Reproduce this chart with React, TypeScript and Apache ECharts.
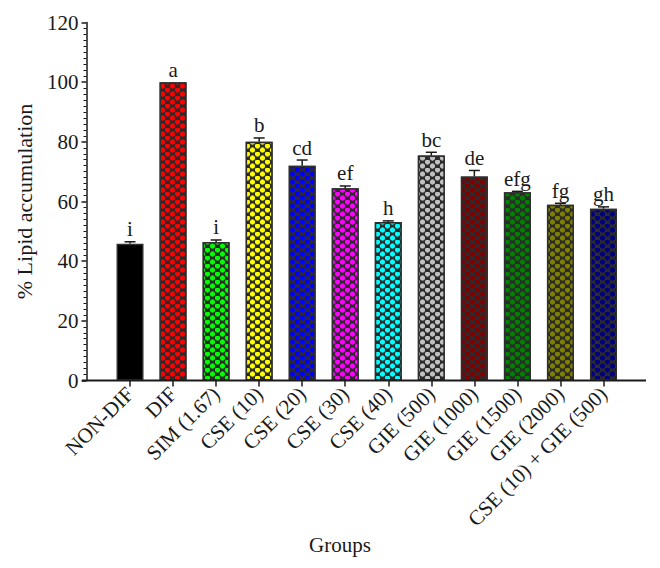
import React, { useEffect, useRef } from "react";
import * as echarts from "echarts";

const categories = [
  "NON-DIF",
  "DIF",
  "SIM (1.67)",
  "CSE (10)",
  "CSE (20)",
  "CSE (30)",
  "CSE (40)",
  "GIE (500)",
  "GIE (1000)",
  "GIE (1500)",
  "GIE (2000)",
  "CSE (10) + GIE (500)",
];
const means = [45.8, 100, 46.4, 80, 72, 64.4, 53.1, 75.4, 68.4, 63.1, 58.9, 57.6];
const errors = [0.7, 0, 0.7, 1.3, 1.9, 0.8, 0.4, 1.1, 2.0, 0.3, 0.5, 0.6];
const letters = ["i", "a", "i", "b", "cd", "ef", "h", "bc", "de", "efg", "fg", "gh"];
const colors = [
  "#000000",
  "#ff0000",
  "#00ff00",
  "#ffff00",
  "#0000ff",
  "#ff00ff",
  "#00ffff",
  "#c0c0c0",
  "#800000",
  "#008000",
  "#808000",
  "#000080",
];
const yMin = 0;
const yMax = 120;
const yInterval = 20;

const FONT = "'Liberation Serif', 'DejaVu Serif', serif";
const INK = "#1a1a1a";
const DARK = "#2b2b2b";

export default function App() {
  const ref = useRef<HTMLDivElement>(null);
  useEffect(() => {
    if (!ref.current) return;
    const chart = echarts.init(ref.current, null, { renderer: "svg" });
    const barData = means.map((m, i) => ({
      value: m,
      itemStyle:
        i === 0
          ? { color: colors[i], borderColor: "#2e2e2e", borderWidth: 1.5 }
          : {
              color: DARK,
              borderColor: "#2e2e2e",
              borderWidth: 1.5,
              decal: {
                symbol: "circle",
                symbolSize: 1.3,
                color: colors[i],
                dashArrayX: [
                  [4.5, 4.5],
                  [0, 4.5, 4.5, 0],
                ],
                dashArrayY: [4, 0],
              },
            },
    }));
    chart.setOption({
      animation: false,
      backgroundColor: "#ffffff",
      grid: { left: 108.5, right: 35, top: 22.5, bottom: 187.5, containLabel: false },
      xAxis: {
        type: "category",
        data: categories,
        axisLine: { show: false },
        axisTick: {
          show: true,
          alignWithLabel: true,
          length: 6,
          lineStyle: { color: INK, width: 1.5 },
        },
        axisLabel: {
          interval: 0,
          rotate: 45,
          margin: 10,
          fontSize: 21,
          fontFamily: FONT,
          color: INK,
        },
        splitLine: { show: false },
      },
      yAxis: {
        type: "value",
        min: yMin,
        max: yMax,
        interval: yInterval,
        offset: 22,
        name: "% Lipid accumulation",
        nameLocation: "middle",
        nameGap: 51,
        nameTextStyle: { fontSize: 22, fontFamily: FONT, color: INK },
        axisLine: { show: true, lineStyle: { color: INK, width: 1.5 } },
        axisTick: { show: true, length: 5, lineStyle: { color: INK, width: 1.5 } },
        minorTick: { show: true, splitNumber: 10, length: 3, lineStyle: { color: INK, width: 1 } },
        axisLabel: { fontSize: 21, fontFamily: FONT, color: INK, margin: 8 },
        splitLine: { show: false },
      },
      graphic: [
        {
          type: "line",
          shape: { x1: 82, y1: 380.5, x2: 646, y2: 380.5 },
          style: { stroke: INK, lineWidth: 1.8 },
          z: 10,
        },
        {
          type: "text",
          x: 340,
          y: 545,
          style: {
            text: "Groups",
            fontSize: 21,
            fontFamily: FONT,
            fill: INK,
            textAlign: "center",
            textVerticalAlign: "middle",
          },
        },
      ],
      series: [
        {
          type: "bar",
          data: barData,
          barWidth: 27,
          z: 2,
        },
        {
          type: "custom",
          z: 3,
          data: means.map((m, i) => [i, m + errors[i]]),
          encode: { x: 0, y: 1 },
          renderItem: (params: any, api: any) => {
            const i = params.dataIndex;
            const base = api.coord([i, means[i]]);
            const top = api.coord([i, means[i] + errors[i]]);
            const children: any[] = [];
            if (errors[i] > 0) {
              children.push({
                type: "line",
                shape: { x1: base[0], y1: base[1], x2: top[0], y2: top[1] },
                style: { stroke: INK, lineWidth: 1.5 },
              });
              children.push({
                type: "line",
                shape: { x1: top[0] - 5.5, y1: top[1], x2: top[0] + 5.5, y2: top[1] },
                style: { stroke: INK, lineWidth: 1.5 },
              });
            }
            children.push({
              type: "text",
              x: top[0],
              y: top[1] - 2,
              style: {
                text: letters[i],
                textAlign: "center",
                textVerticalAlign: "bottom",
                fontSize: 21,
                fontFamily: FONT,
                fill: INK,
              },
            });
            return { type: "group", children };
          },
        },
      ],
    });
    return () => chart.dispose();
  }, []);
  return (
    <div
      ref={ref}
      style={{ position: "absolute", left: 0, top: 0, width: 660, height: 568 }}
    />
  );
}
